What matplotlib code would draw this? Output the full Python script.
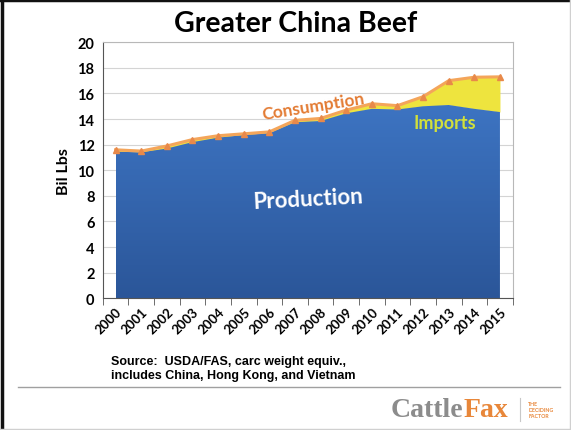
import numpy as np
import matplotlib
matplotlib.use('Agg')
import matplotlib.pyplot as plt
from matplotlib.colors import LinearSegmentedColormap

years = [str(y) for y in range(2000, 2016)]
consumption = [11.6, 11.5, 11.9, 12.4, 12.7, 12.85, 13.0, 13.9, 14.05, 14.7,
               15.2, 15.05, 15.75, 17.0, 17.27, 17.3]
production = [11.45, 11.4, 11.7, 12.2, 12.55, 12.75, 12.9, 13.75, 13.85, 14.45,
              14.8, 14.75, 15.0, 15.1, 14.8, 14.55]

plt.rcParams['font.family'] = ['Lato', 'DejaVu Sans']

fig = plt.figure(figsize=(5.71, 4.31), dpi=100)
ax = fig.add_axes([0.18, 0.3056, 0.718, 0.594])
x = np.arange(len(years))

# imports band between production and consumption
ax.fill_between(x, production, consumption, color='#eee43e', lw=0, zorder=2)

# production area with a vertical blue gradient
prod_poly = ax.fill_between(x, 0, production, color='none', lw=0, zorder=2)
cmap = LinearSegmentedColormap.from_list('blue', ['#2b5699', '#3d74c2'])
grad = np.linspace(0, 1, 256).reshape(-1, 1)
im = ax.imshow(grad, cmap=cmap, aspect='auto', origin='lower',
               extent=[x[0], x[-1], 0, max(production)], zorder=2)
im.set_clip_path(prod_poly.get_paths()[0], transform=ax.transData)

ax.plot(x, consumption, color='#f4a55a', lw=2.2, marker='^', ms=5,
        mfc='#e8894a', mec='#e8894a', zorder=4)

ax.set_xlim(-0.5, len(years) - 0.5)
ax.set_ylim(0, 20)
ax.set_yticks(range(0, 21, 2))
ax.set_xticks(x)
ax.set_xticklabels(years, rotation=45, ha='right', rotation_mode='anchor',
                   fontsize=9.5, fontweight='bold')
ax.set_xticks(np.arange(-0.5, len(years)), minor=True)
ax.tick_params(axis='x', which='major', length=0, pad=5)
ax.tick_params(axis='x', which='minor', length=5, color='#555555', direction='out')
ax.tick_params(axis='y', length=0, labelsize=10.5, pad=6)
for t in ax.get_yticklabels():
    t.set_fontweight('bold')
ax.grid(axis='y', color='#d4d4d4', lw=0.8, zorder=0)
ax.set_axisbelow(True)
ax.spines['top'].set_color('#b8b8b8')
ax.spines['right'].set_color('#b8b8b8')
ax.spines['left'].set_color('#555555')
ax.spines['bottom'].set_color('#555555')
ax.set_ylabel('Bil Lbs', fontsize=11.5, fontweight='bold', labelpad=5)

ax.text(7.7, 15.0, 'Consumption', color='#e37b33', fontsize=12.5,
        fontweight='bold', rotation=9, ha='center', va='center', zorder=5)
ax.text(12.85, 13.75, 'Imports', color='#d2e03a', fontsize=13,
        fontweight='bold', ha='center', va='center', zorder=5)
ax.text(7.5, 7.8, 'Production', color='white', fontsize=16,
        fontweight='bold', rotation=3, ha='center', va='center', zorder=5)

fig.text(0.517, 0.944, 'Greater China Beef', fontsize=20.5, fontweight='bold',
         ha='center', va='center')
fig.text(0.194, 0.143, 'Source:  USDA/FAS, carc weight equiv.,\n'
         'includes China, Hong Kong, and Vietnam', fontsize=9,
         fontweight='bold', family=['Liberation Sans', 'DejaVu Sans'],
         ha='left', va='center', linespacing=1.2)

# footer rule and logo
fig.add_artist(plt.Line2D([0.032, 0.98], [0.1, 0.1], color='#a0a0a0', lw=1))
fig.text(0.812, 0.047, 'Cattle', fontsize=20, fontweight='bold', color='#8c8c8c',
         family=['Liberation Serif'], ha='right', va='center')
fig.text(0.812, 0.047, 'Fax', fontsize=20, fontweight='bold', color='#e8873a',
         family=['Liberation Serif'], ha='left', va='center')
fig.add_artist(plt.Line2D([0.91, 0.91], [0.02, 0.075], color='#c8c8c8', lw=0.8))
fig.text(0.925, 0.047, 'THE\nDECIDING\nFACTOR', fontsize=3.8, color='#e8873a',
         fontweight='bold', ha='left', va='center', linespacing=1.3)

# slide frame: heavy left/top edges, faint right/bottom
fig.add_artist(plt.Line2D([0.003, 0.003], [0, 1], color='#111111', lw=2.5))
fig.add_artist(plt.Line2D([0, 1], [0.997, 0.997], color='#111111', lw=2.5))
fig.add_artist(plt.Line2D([0, 1], [0.002, 0.002], color='#d0d0d0', lw=1))
fig.add_artist(plt.Line2D([0.998, 0.998], [0, 1], color='#d0d0d0', lw=1))

fig.savefig('out.png', dpi=100)
